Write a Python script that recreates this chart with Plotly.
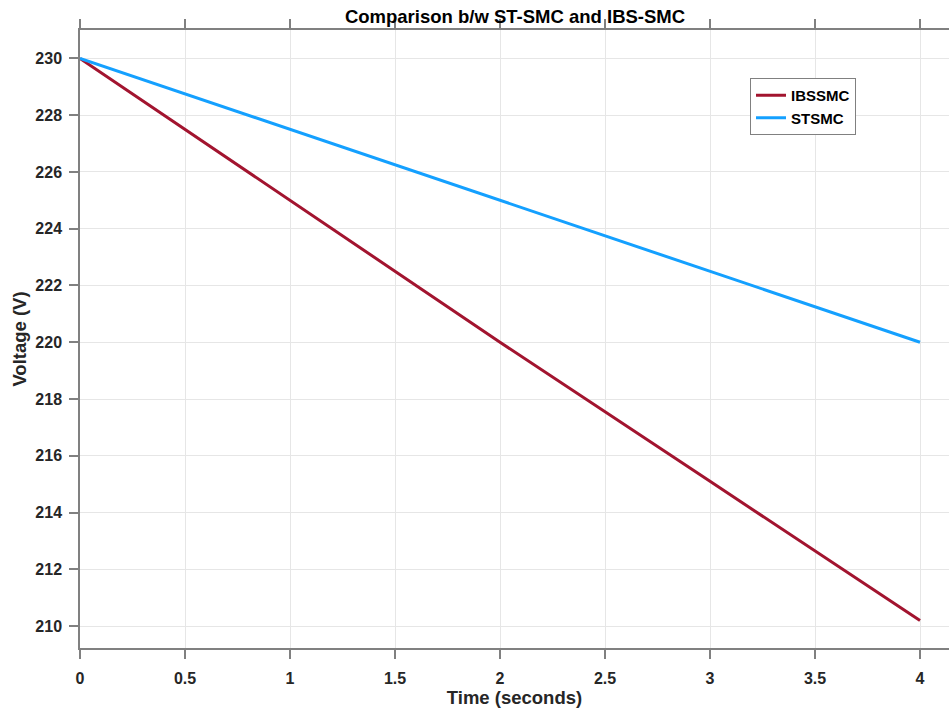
import plotly.graph_objects as go

time_s = [0, 1, 2, 3, 4]
ibssmc = [230.0, 225.0, 220.0, 215.1, 210.2]
stsmc = [230.0, 227.5, 225.0, 222.5, 220.0]
x_ticks = [0, 0.5, 1, 1.5, 2, 2.5, 3, 3.5, 4]
y_ticks = [210, 212, 214, 216, 218, 220, 222, 224, 226, 228, 230]

FONT = "Arial, Liberation Sans, sans-serif"
W, H = 949, 713
L, R, T, B = 80, 0, 30, 65

fig = go.Figure()
fig.add_trace(go.Scatter(x=time_s, y=ibssmc, mode="lines", name="IBSSMC",
                         line=dict(color="#A2142F", width=3)))
fig.add_trace(go.Scatter(x=time_s, y=stsmc, mode="lines", name="STSMC",
                         line=dict(color="#14A0FF", width=3)))

axis_common = dict(
    showline=True, linecolor="#808080", linewidth=1.5,
    ticks="outside", ticklen=9, tickwidth=1.5, tickcolor="#808080",
    showgrid=True, gridcolor="#e6e6e6", gridwidth=1,
    zeroline=False,
    tickfont=dict(family=FONT, size=16, color="#262626", weight="bold"),
)

fig.update_layout(
    width=W, height=H,
    margin=dict(l=L, r=R, t=T, b=B, pad=0),
    paper_bgcolor="white", plot_bgcolor="white",
    title=dict(text="<b>Comparison b/w ST-SMC and IBS-SMC</b>",
               font=dict(family=FONT, size=18.5, color="black"),
               x=(515) / W, xanchor="center", y=1 - 17 / H, yanchor="middle"),
    xaxis=dict(range=[0, (W - L) / 210.0], tickvals=x_ticks,
               ticktext=[f"{v:g}" for v in x_ticks], mirror="ticks",
               ticklabelstandoff=6,
               title=dict(text="<b>Time (seconds)</b>", standoff=3,
                          font=dict(family=FONT, size=18.5, color="#262626")),
               **axis_common),
    yaxis=dict(range=[209.23, 231.0], tickvals=y_ticks, mirror=False,
               ticklabelstandoff=4,
               title=dict(text="<b>Voltage (V)</b>", standoff=4,
                          font=dict(family=FONT, size=18.5, color="#262626")),
               **axis_common),
    legend=dict(x=(750 - L) / (W - L), y=(648 - 78) / (648 - 30),
                xanchor="left", yanchor="top",
                bgcolor="white", bordercolor="#808080", borderwidth=1,
                font=dict(family=FONT, size=15, color="black", weight="bold"),
                tracegroupgap=0, itemwidth=30),
    showlegend=True,
    hovermode=False,
)

fig.write_html("out.html")
